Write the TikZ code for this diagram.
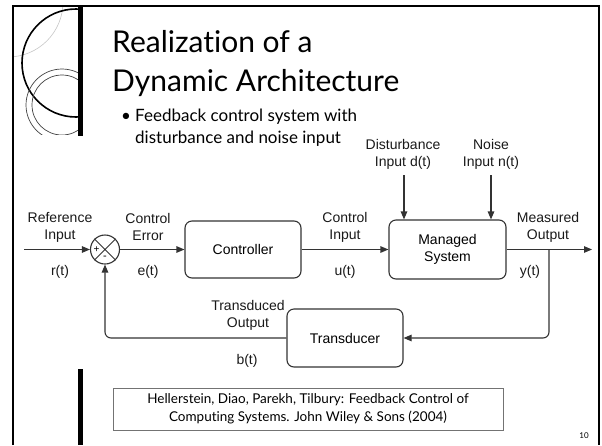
\documentclass[tikz,border=0pt]{standalone}
\usepackage{fontspec}
\setmainfont{Lato}[Ligatures={NoCommon,NoRare,NoContextual}]
\newfontfamily\arialf{Liberation Sans}
\usetikzlibrary{arrows.meta}
\definecolor{ln}{HTML}{333333}
\begin{document}
\begin{tikzpicture}[x=1pt,y=-1pt,
  blk/.style={draw=ln,line width=1.1pt,rounded corners=7pt,font=\arialf\fontsize{14}{17}\selectfont,align=center,inner sep=0pt},
  lbl/.style={font=\arialf\fontsize{14}{17}\selectfont,align=center,inner sep=0pt,text=black!90},
  arr/.style={draw=ln,line width=1.1pt,-{Triangle[length=8pt,width=6.5pt]}},
  ttl/.style={font=\fontsize{30}{39}\selectfont,anchor=base west,inner sep=0pt},
  bul/.style={font=\fontsize{17}{22}\selectfont,anchor=base west,inner sep=0pt}]
\useasboundingbox (0,0) rectangle (602,445);
% decorative circles
\begin{scope}
\clip (13,6) rectangle (78,136);
\draw[gray!45,line width=0.6pt] (8,2) circle[radius=55];
\draw[black,line width=1.6pt] (76,63) circle[radius=54];
\begin{scope}
\clip (13,6) rectangle (78,134);
\draw[black!75,line width=0.7pt] (62,105) circle[radius=36];
\draw[black!75,line width=0.7pt] (62,105) circle[radius=30];
\end{scope}
\end{scope}
% frame
\draw[black,line width=1.8pt] (13,445) -- (13,6) -- (599,6) -- (599,445);
\draw[black,line width=4.8pt] (80.5,6) -- (80.5,136);
\draw[black,line width=5pt] (80,369) -- (80,445);
% title and bullet
\node[ttl] (t1) at (112,52) {Realization of a};
\node[ttl] (t2) at (112,91) {Dynamic Architecture};
\node[bul] (b0) at (121,121) {•};
\node[bul] (b1) at (135,121) {Feedback control system with};
\node[bul] (b2) at (135,143) {disturbance and noise input};
% diagram
\node[draw=ln,line width=1.1pt,circle,minimum size=29pt,inner sep=0pt] (sum) at (105,249.5) {};
\draw[ln,line width=0.9pt] (sum.45) -- (sum.225) (sum.135) -- (sum.315);
\node[font=\arialf\fontsize{10}{10}\selectfont,inner sep=0pt] (plus) at (96.5,249.5) {+};
\node[font=\arialf\fontsize{11}{11}\selectfont,inner sep=0pt] (minus) at (105,257.5) {-};
\node[blk,minimum width=116pt,minimum height=57pt] (ctrl) at (243,249.5) {Controller};
\node[blk,minimum width=117pt,minimum height=59pt] (ms) at (447.5,249.5) {Managed\\System};
\node[blk,minimum width=116pt,minimum height=58pt] (td) at (345,338) {Transducer};
\node[lbl] (lref) at (60,227) {Reference\\Input};
\node[lbl] (lr) at (60,272) {r(t)};
\node[lbl] (lerr) at (148,227) {Control\\Error};
\node[lbl] (le) at (148,272) {e(t)};
\node[lbl] (lci) at (345,227) {Control\\Input};
\node[lbl] (lu) at (345,272) {u(t)};
\node[lbl] (ldist) at (403,154) {Disturbance\\Input d(t)};
\node[lbl] (lnoise) at (491,154) {Noise\\Input n(t)};
\node[lbl] (lmo) at (548,227) {Measured\\Output};
\node[lbl] (ly) at (530,272) {y(t)};
\node[lbl] (ltr) at (248,315.5) {Transduced\\Output};
\node[lbl] (lb) at (247,361) {b(t)};
\coordinate (rin) at (24,249.5);
\coordinate (yout) at (592,249.5);
\coordinate (tap) at (549,249.5);
\coordinate (din) at (404,175);
\coordinate (nin) at (491,175);
\draw[arr] (rin) -- (sum.west);
\draw[arr] (sum.east) -- (ctrl.west);
\draw[arr] (ctrl.east) -- (ms.west);
\draw[arr] (ms.east) -- (yout);
\draw[arr] (din) -- (din |- ms.north);
\draw[arr] (nin) -- (nin |- ms.north);
\draw[arr,rounded corners=6pt] (tap) |- (td.east);
\draw[arr,rounded corners=6pt] (td.west) -| (sum.south);
% citation
\node[draw=black!55,line width=0.8pt,minimum width=390pt,minimum height=42pt,inner sep=0pt,align=center,font=\fontsize{13.5}{18}\selectfont] (cite) at (308,409) {Hellerstein, Diao, Parekh, Tilbury: Feedback Control of\\Computing Systems. John Wiley \& Sons (2004)};
\node[font=\fontsize{8}{8}\selectfont,inner sep=0pt] (pg) at (584,436) {10};
\end{tikzpicture}
\end{document}
